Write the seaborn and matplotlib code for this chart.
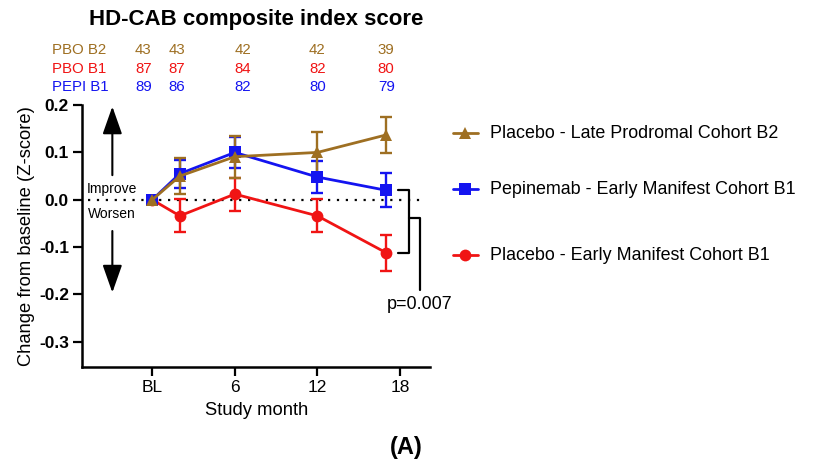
import numpy as np
import pandas as pd
import matplotlib
matplotlib.use("Agg")
import matplotlib.pyplot as plt
import seaborn as sns
from matplotlib.lines import Line2D

# study visits (months) and tick labels
months = [0, 2, 6, 12, 17]
tick_pos = [0, 6, 12, 18]
tick_lab = ["BL", "6", "12", "18"]

groups = ["Placebo - Early Manifest Cohort B1",
          "Pepinemab - Early Manifest Cohort B1",
          "Placebo - Late Prodromal Cohort B2"]

pbo_b1 = [0.0, -0.034, 0.012, -0.034, -0.112]
pbo_b1_err = [0.0, 0.035, 0.035, 0.035, 0.038]
pepi_b1 = [0.0, 0.055, 0.100, 0.048, 0.020]
pepi_b1_err = [0.0, 0.030, 0.033, 0.033, 0.036]
pbo_b2 = [0.0, 0.050, 0.091, 0.100, 0.137]
pbo_b2_err = [0.0, 0.038, 0.044, 0.044, 0.038]

# subjects per visit
n_rows = ["PBO B2", "PBO B1", "PEPI B1"]
n_pbo_b2 = [43, 43, 42, 42, 39]
n_pbo_b1 = [87, 87, 84, 82, 80]
n_pepi_b1 = [89, 86, 82, 80, 79]
n_shift = [-0.65, -0.2, 0.6, 0.0, 0.0]

brown = "#9E6F22"
red = "#F01414"
blue = "#1414F0"
colors = {groups[0]: red, groups[1]: blue, groups[2]: brown}
markers = {groups[0]: "o", groups[1]: "s", groups[2]: "^"}

df = pd.DataFrame({
    "month": months * 3,
    "value": pbo_b1 + pepi_b1 + pbo_b2,
    "err": pbo_b1_err + pepi_b1_err + pbo_b2_err,
    "group": [groups[0]] * 5 + [groups[1]] * 5 + [groups[2]] * 5,
})

sns.set_style("ticks")
plt.rcParams["font.family"] = ["Liberation Sans", "DejaVu Sans"]
for k in ["text.color", "axes.labelcolor", "xtick.color", "ytick.color", "axes.edgecolor"]:
    plt.rcParams[k] = "black"

fig = plt.figure(figsize=(8.29, 4.65), dpi=100)
ax = fig.add_axes([0.099, 0.211, 0.42, 0.563])

for g in groups:
    sub = df[df["group"] == g]
    ax.errorbar(sub["month"], sub["value"], yerr=sub["err"], fmt="none",
                ecolor=colors[g], elinewidth=1.7, capsize=4.3, capthick=1.7, zorder=2)

sns.lineplot(data=df, x="month", y="value", hue="group", style="group",
             hue_order=groups, style_order=groups, palette=colors,
             markers=markers, dashes=False, markersize=8.5, linewidth=2,
             markeredgewidth=0, ax=ax, legend=False, zorder=3)

ax.axhline(0, xmin=0.017, xmax=0.98, color="black", linestyle=(0, (1, 3)),
           linewidth=1.6, zorder=1)

ax.set_xlim(-5.1, 20.2)
ax.set_ylim(-0.353, 0.2)
ax.set_yticks([0.2, 0.1, 0.0, -0.1, -0.2, -0.3])
ax.set_yticklabels(["0.2", "0.1", "0.0", "-0.1", "-0.2", "-0.3"],
                   fontweight="bold", fontsize=12.5)
ax.set_xticks(tick_pos)
ax.set_xticklabels(tick_lab, fontsize=12.5)
ax.tick_params(width=1.6, length=6.5, pad=3)
for s in ["left", "bottom"]:
    ax.spines[s].set_linewidth(1.8)
sns.despine(ax=ax)
ax.set_xlabel("Study month", fontsize=13.2, labelpad=5)
ax.set_ylabel("Change from baseline (Z-score)", fontsize=13.2, labelpad=3)

# improve / worsen arrows
ax.annotate("", xy=(-2.9, 0.197), xytext=(-2.9, 0.052),
            arrowprops=dict(arrowstyle="-|>,head_width=0.6,head_length=1.7",
                            color="black", lw=1.5, shrinkA=0, shrinkB=0))
ax.annotate("", xy=(-2.9, -0.196), xytext=(-2.9, -0.066),
            arrowprops=dict(arrowstyle="-|>,head_width=0.6,head_length=1.7",
                            color="black", lw=1.5, shrinkA=0, shrinkB=0))
ax.text(-2.95, 0.007, "Improve", ha="center", va="bottom", fontsize=10)
ax.text(-2.95, -0.016, "Worsen", ha="center", va="top", fontsize=10)

# significance bracket at the last visit
y_top, y_bot = pepi_b1[-1], pbo_b1[-1]
y_mid = (y_top + y_bot) / 2
br = dict(color="black", lw=1.6, clip_on=False)
ax.plot([17.85, 18.65, 18.65, 17.85], [y_top, y_top, y_bot, y_bot], **br)
ax.plot([18.65, 19.45, 19.45], [y_mid + 0.007, y_mid + 0.007, -0.19], **br)
ax.text(19.45, -0.203, "p=0.007", ha="center", va="top", fontsize=13)

# numbers at risk above the plot
trans = matplotlib.transforms.blended_transform_factory(ax.transData, fig.transFigure)
for row, vals, c, yy in zip(n_rows, [n_pbo_b2, n_pbo_b1, n_pepi_b1],
                            [brown, red, blue], [0.893, 0.851, 0.812]):
    fig.text(0.063, yy, row, color=c, fontsize=10.8, va="center")
    for m, v, d in zip(months, vals, n_shift):
        ax.text(m + d, yy, str(v), color=c, fontsize=10.8, ha="center",
                va="center", transform=trans)

fig.text(0.309, 0.958, "HD-CAB composite index score", fontsize=16,
         fontweight="bold", ha="center", va="center")
fig.text(0.49, 0.037, "(A)", fontsize=17, fontweight="bold",
         ha="center", va="center")

# legend, drawn entry by entry
leg_y = [1 - 133 / 465, 1 - 189 / 465, 1 - 255 / 465]
for g, yy in zip(groups[::-1], leg_y):
    fig.add_artist(Line2D([0.546, 0.577], [yy, yy], color=colors[g], lw=2,
                          transform=fig.transFigure))
    fig.add_artist(Line2D([0.5615], [yy], color=colors[g], marker=markers[g],
                          markersize=8.5, markeredgewidth=0,
                          transform=fig.transFigure))
    fig.text(0.591, yy, g, fontsize=12.9, va="center", ha="left")

fig.savefig("out.png", dpi=100)
